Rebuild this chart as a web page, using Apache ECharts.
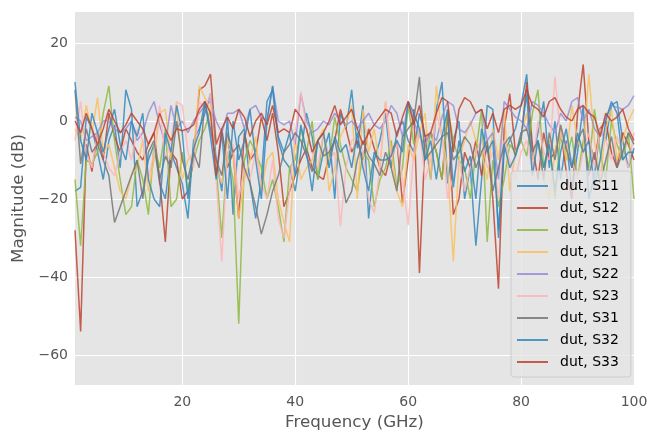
<!DOCTYPE html>
<html>
<head>
<meta charset="utf-8">
<script src="https://cdn.jsdelivr.net/npm/echarts@6/dist/echarts.min.js"></script>
<style>
  html, body { margin: 0; padding: 0; background: #fff; }
  #chart { width: 662px; height: 443px; }
</style>
</head>
<body>
<div id="chart"></div>
<script>
// frequency axis, 1..100 GHz
var freq = [];
for (var f = 1; f <= 100; f++) freq.push(f);

var seriesNames = ['dut, S11', 'dut, S12', 'dut, S13', 'dut, S21', 'dut, S22',
                   'dut, S23', 'dut, S31', 'dut, S32', 'dut, S33'];
var colors = ['#348ABD', '#BE4330', '#8EBA42', '#FBC15E', '#988ED5',
              '#FFB5B8', '#777777', '#348ABD', '#BE4330'];
var xTicks = [20, 40, 60, 80, 100];
var yTicks = [-60, -40, -20, 0, 20];

var S11 = [-18, -17, 1, -2, -8, -15, -5, -1, -12, 8,
           3, -22, -18, -10, -6, -16, -20, -8, -12, -16,
           -25, -5, -2, 2, 7, -10, -18, 1, -24, -4,
           -2, -16, -25, -15, 5, 8, -5, -10, -12, -18,
           -8, 2, -4, -15, -8, -3, -20, 2, -2, 8,
           -7, 4, -25, -10, -5, 2, -12, -3, 0, -5,
           -8, 2, -4, -15, 3, 10, -16, -5, 0, -20,
           -12, -32, -15, 4, 3, -30, -8, -5, -2, 4,
           12, -10, -3, 5, -12, 0, -15, -5, -18, -8,
           4, -20, -14, -2, -5, 4, 5, -5, -12, -7];
var S12 = [-28, -54, -6, -13, -3, -10, 2, -4, -8, -2,
           -5, -8, -10, -6, -3, -15, -31, -8, -10, -20,
           -18, -10, 8, 9, 12, -6, -2, -12, -8, -25,
           -3, -10, -8, 1, -5, 2, -8, -22, -18, -14,
           -10, -7, -12, -14, -15, -9, -5, 3, -2, -8,
           -5, -10, -2, -7, -12, -14, -8, -5, -21, -10,
           3, -39, -5, -3, -8, -15, 2, -24, -20, -8,
           -12, -5, -14, -6, -20, -43, -2, 7, -8, -5,
           10, -6, -15, -3, -10, -8, -2, -13, -20, 2,
           14.5, -5, -10, -2, 0, -8, -12, -3, -6, -10];
var S13 = [-15, -32, -10, -11, -8, 2, 9, -5, -15, -24,
           -22, -10, -15, -24, -6, -12, -2, -22, -20, -8,
           -18, -10, -5, -2, 3, -12, -30, -8, -15, -52,
           -10, -5, -8, -12, -20, -15, -22, -31, -12, -10,
           -2, -8, 0, -15, -3, -10, 1, -6, -12, -15,
           -18, -8, -10, -22, -15, -12, -5, -17, -12, 4,
           -6, -2, -10, -3, -8, -15, 3, -5, -10, -12,
           -20, -8, 3, -31, -10, -22, -15, -6, -8, -5,
           -9, 2, 8, -12, -5, -20, -3, -10, -4, -15,
           -5, -12, 3, -8, -15, 0, -6, -10, -3, -20];
var S21 = [-2, -5, 4, -3, 6, -8, -6, -12, -18, -20,
           -14, -12, -5, -18, -10, 2, 3, -10, 5, -15,
           -10, -8, 9, 6, 3, -12, -16, -5, -8, -25,
           -15, -10, -4, -18, -10, -8, -20, -26, -31, -5,
           -15, -12, -10, -5, -2, -18, -12, -4, -1, 4,
           -20, 3, -8, -2, -12, 5, -8, -18, -22, -6,
           -10, -3, 2, -15, 9, -4, -12, -36, -10, -5,
           0, -5, -8, -15, -2, -10, 3, -18, -8, -4,
           2, -10, -5, -15, -20, -8, -2, -10, 4, -5,
           -8, 12, -5, -15, -2, 3, -10, -5, 0, 3];
var S22 = [1, 0, -5, -4, -3, 0, 0, -2, -3, -2,
           0, -5, -3, 2, 5, -1, -6, 4, -2, 0,
           -3, 0, 2, 4, 5, 0, -3, 2, 2, 3,
           -2, 3, 4, 1, 0, 8.8, 0, -1, 0, -6,
           7, 0, -3, -2, 0, -1, 2, 0, -1, 0,
           -2, 0, 2, -1, -2, 0, 4, 2, -4, 5,
           0, -4, -6, -3, -5, 1, 5, 4, -2, -3,
           -1, 2, 3, -5, -3, -15, 5, 3, 1, 0,
           -2, 5, 4, 2, -1, -3, 2, 0, 5, 6,
           0, 3, -2, -4, 1, 4, 3.5, 3, 4, 6.5];
var S23 = [-5, 5, -8, -12, -3, -8, -12, -14, -8, -5,
           -10, -2, -5, -15, -8, 4, -10, -5, 5, 4,
           -8, -12, 5, 3, 7, -15, -36, -8, -6, -20,
           -12, -15, -8, -16, -20, -10, -25, -30, -18, -3,
           7.5, -2, -8, -12, -3, -10, -8, -27, -12, -5,
           -4, -8, -20, -23.5, -12, 5, -10, -5, -15, -26.7,
           -8, -2, -15, -10, 2, -4, -20, -14, -10, -18,
           -12, -8, -5, -12, -8, -20, -5, -10, -15, -8,
           -5, -12, 0, -8, -10, 11.4, -4, -6, -10, -15,
           -8, -3, -12, -2, -5, -10, -4, -8, -12, -3];
var S31 = [8, -11, -2, -8, -6, -10, -14, -26, -22, -18,
           -14, -10, -20, -8, -5, -15, -9, -12, 0, -10,
           -15, -8, -12, 5, -2, -10, -14, -3, -8, -6,
           -12, -16, -22, -29, -24, -18, -14, -8, -6, -3,
           -5, -9, -13, -5, -9, -8, -5, -12, -21, -18,
           -10, -5, -9, -11, -14, -8, -12, -18, -4, -2,
           0, 11.3, -10, -8, -6, -4, -3, -10, -8, -4,
           -6, -12, -8, -5, -18, -12, -6, -4, -9, -3,
           -2, -8, -5, -15, -3, -10, -1, -7, -12, -5,
           -2, -14, -8, -16, -10, -4, -12, -8, -3, -6];
var S32 = [10, -5, -10, 2, -3, -8, -2, 3, -6, -10,
           0, -4, 2, -15, -20, -22, -3, -8, 4, -3,
           -20, -7, -3, 5, -4, -15, -3, -20, 0, -10,
           -5, 3, -10, -20, 0, 9, -4, -8, -3, -14,
           -1, -8, -18, -5, -3, -12, -4, -8, -6, -12,
           -3, -12, -18, -8, -10, -10, -9, -5, -8, 5,
           2, -2, -10, -5, -15, -4, 3, -17, -5, -13,
           -9, -20, -2, -8, -5, -28, -6, -12, -9, -4,
           7, -14, -5, -12, -6, -18, -8, -2, -12, -3,
           -8, -5, -17, -10, 0, 5, 2, -10, -8, -8];
var S33 = [0, -3, 2, -2, -6, -2, 3, 0, -3, -1,
           2, 0, -2, -6, -3, 2, -2, -5, -2, -2.5,
           -2, -1, 3, 5, 2, -14, -2, 1, -2, 3,
           1, -4, 0, 2, -1, 4, -3, -2, -3, 3,
           1, -2, -8, -5, -3, 0, 4, -1, 1, 3,
           -2, -6, -3, -1, 1, 3, 2, -4, 1, 5,
           -1, 4, -4, -3, 2, 6, 5, -8, 3, 6,
           5, 2, 3, -2, 2, -3, 3, 4, 3, 4,
           8, 4, 3, 1, 5, 6, 3, 1, 0, 3,
           4, 2, 1, -4, 2, 0, 1, 3, -2, -5];

var allData = [S11, S12, S13, S21, S22, S23, S31, S32, S33];

function minusFmt(v){
	return String(v).replace('-', '\u2212');
}

function initChart(){
	var myChart = echarts.init(document.getElementById('chart'));
	var seriesList = [];
	for (var i = 0; i < allData.length; i++) {
		var pts = [];
		for (var j = 0; j < freq.length; j++) pts.push([freq[j], allData[i][j]]);
		seriesList.push({
			name: seriesNames[i],
			type: 'line',
			data: pts,
			symbol: 'none',
			color: colors[i],
			lineStyle: {width: 1.5, color: colors[i], opacity: 0.85}
		});
	}
	var option = {
		animation: false,
		textStyle: {fontFamily: 'DejaVu Sans'},
		grid: {
			left: 75, right: 28, top: 12, bottom: 58,
			show: true,
			backgroundColor: '#E5E5E5',
			borderWidth: 0
		},
		legend: {
			data: seriesNames,
			orient: 'vertical',
			left: 511,
			top: 171,
			padding: [8, 12, 8, 5],
			itemWidth: 31,
			itemHeight: 14,
			itemGap: 8,
			itemStyle: {opacity: 0},
			backgroundColor: 'rgba(229,229,229,0.8)',
			borderColor: '#CCCCCC',
			borderWidth: 1,
			borderRadius: 3,
			textStyle: {fontSize: 14, color: '#000', fontFamily: 'DejaVu Sans', padding: [0, 0, 0, 7]}
		},
		xAxis: {
			type: 'value',
			min: 1,
			max: 100,
			name: 'Frequency (GHz)',
			nameLocation: 'middle',
			nameGap: 28,
			nameTextStyle: {color: '#555555', fontSize: 16.7},
			axisLine: {show: false},
			axisTick: {show: false, customValues: xTicks},
			axisLabel: {color: '#555555', fontSize: 14, margin: 10, customValues: xTicks, formatter: minusFmt},
			splitLine: {show: true, lineStyle: {color: '#FFFFFF', width: 1.1}}
		},
		yAxis: {
			type: 'value',
			min: -67.7,
			max: 27.95,
			name: 'Magnitude (dB)',
			nameLocation: 'middle',
			nameGap: 47,
			nameTextStyle: {color: '#555555', fontSize: 16.7},
			axisLine: {show: false},
			axisTick: {show: false, customValues: yTicks},
			axisLabel: {color: '#555555', fontSize: 14, margin: 7, customValues: yTicks, formatter: minusFmt},
			splitLine: {show: true, lineStyle: {color: '#FFFFFF', width: 1.1}}
		},
		series: seriesList
	};
	myChart.setOption(option);
}
initChart();
</script>
</body>
</html>
